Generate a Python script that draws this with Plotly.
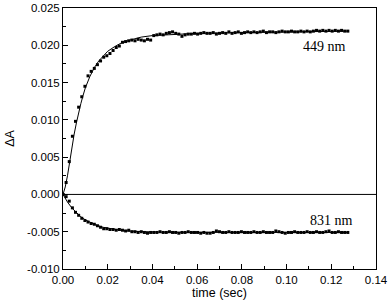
import plotly.graph_objects as go

# sampling times (s)
time = [0.0000, 0.0014, 0.0028, 0.0042, 0.0056, 0.0070, 0.0084, 0.0098, 0.0112, 0.0126,
        0.0140, 0.0154, 0.0168, 0.0182, 0.0196, 0.0210, 0.0224, 0.0238, 0.0252, 0.0266,
        0.0280, 0.0294, 0.0308, 0.0322, 0.0336, 0.0350, 0.0364, 0.0378, 0.0392, 0.0406,
        0.0420, 0.0434, 0.0448, 0.0462, 0.0476, 0.0490, 0.0504, 0.0518, 0.0532, 0.0546,
        0.0560, 0.0574, 0.0588, 0.0602, 0.0616, 0.0630, 0.0644, 0.0658, 0.0672, 0.0686,
        0.0700, 0.0714, 0.0728, 0.0742, 0.0756, 0.0770, 0.0784, 0.0798, 0.0812, 0.0826,
        0.0840, 0.0854, 0.0868, 0.0882, 0.0896, 0.0910, 0.0924, 0.0938, 0.0952, 0.0966,
        0.0980, 0.0994, 0.1008, 0.1022, 0.1036, 0.1050, 0.1064, 0.1078, 0.1092, 0.1106,
        0.1120, 0.1134, 0.1148, 0.1162, 0.1176, 0.1190, 0.1204, 0.1218, 0.1232, 0.1246,
        0.1260, 0.1274]

# absorbance change at 449 nm
dA_449 = [0.0000, 0.0016, 0.0044, 0.0078, 0.0098, 0.0117, 0.0131, 0.0145, 0.0159, 0.0165,
          0.0169, 0.0174, 0.0179, 0.0184, 0.0186, 0.0189, 0.0193, 0.0197, 0.0199, 0.0204,
          0.0205, 0.0206, 0.0207, 0.0206, 0.0208, 0.0207, 0.0206, 0.0208, 0.0207, 0.0213,
          0.0214, 0.0215, 0.0214, 0.0216, 0.0217, 0.0218, 0.0216, 0.0215, 0.0212, 0.0214,
          0.0215, 0.0215, 0.0216, 0.0215, 0.0216, 0.0217, 0.0216, 0.0216, 0.0217, 0.0215,
          0.0216, 0.0217, 0.0216, 0.0218, 0.0216, 0.0217, 0.0218, 0.0216, 0.0217, 0.0218,
          0.0217, 0.0218, 0.0217, 0.0218, 0.0219, 0.0217, 0.0218, 0.0218, 0.0217, 0.0218,
          0.0219, 0.0218, 0.0218, 0.0219, 0.0218, 0.0218, 0.0219, 0.0218, 0.0219, 0.0218,
          0.0219, 0.0220, 0.0219, 0.0220, 0.0219, 0.0220, 0.0219, 0.0220, 0.0219, 0.0220,
          0.0219, 0.0219]

# absorbance change at 831 nm
dA_831 = [0.0000, -0.0003, -0.0009, -0.0018, -0.0024, -0.0028, -0.0032, -0.0035, -0.0037, -0.0039,
          -0.0040, -0.0042, -0.0044, -0.0046, -0.0046, -0.0047, -0.0047, -0.0048, -0.0047, -0.0048,
          -0.0049, -0.0048, -0.0050, -0.0050, -0.0051, -0.0050, -0.0051, -0.0052, -0.0051, -0.0051,
          -0.0051, -0.0050, -0.0051, -0.0051, -0.0050, -0.0051, -0.0051, -0.0052, -0.0051, -0.0051,
          -0.0050, -0.0051, -0.0051, -0.0051, -0.0052, -0.0051, -0.0052, -0.0052, -0.0051, -0.0049,
          -0.0050, -0.0051, -0.0051, -0.0050, -0.0051, -0.0051, -0.0051, -0.0050, -0.0051, -0.0051,
          -0.0051, -0.0050, -0.0051, -0.0051, -0.0050, -0.0051, -0.0051, -0.0051, -0.0049, -0.0050,
          -0.0051, -0.0052, -0.0051, -0.0051, -0.0050, -0.0051, -0.0051, -0.0051, -0.0050, -0.0051,
          -0.0051, -0.0050, -0.0051, -0.0051, -0.0050, -0.0049, -0.0051, -0.0051, -0.0050, -0.0051,
          -0.0051, -0.0051]

# fitted curves
fit_time_449 = [0.0, 0.001, 0.002, 0.003, 0.004, 0.005, 0.006, 0.007, 0.008, 0.009, 0.010,
                0.012, 0.014, 0.016, 0.018, 0.020, 0.023, 0.026, 0.030, 0.035, 0.040, 0.050,
                0.060, 0.080, 0.100, 0.1274]
fit_449 = [0.0, 0.0010, 0.0025, 0.0045, 0.0064, 0.0081, 0.0096, 0.0110, 0.0122, 0.0133, 0.0143,
           0.0158, 0.0170, 0.0179, 0.0186, 0.0192, 0.0198, 0.0203, 0.0207, 0.0211, 0.0213, 0.0215,
           0.0216, 0.0217, 0.0218, 0.0219]

fit_time_831 = [0.0, 0.002, 0.004, 0.006, 0.008, 0.010, 0.012, 0.015, 0.018, 0.022, 0.026,
                0.030, 0.035, 0.040, 0.050, 0.060, 0.080, 0.100, 0.1274]
fit_831 = [0.0, -0.00102, -0.00183, -0.00248, -0.0030, -0.00342, -0.00375, -0.00414, -0.00441,
           -0.00466, -0.00482, -0.00492, -0.00500, -0.00504, -0.00508, -0.0051, -0.0051, -0.0051,
           -0.0051]

labels = ["449 nm", "831 nm"]
label_pos = [(0.117, 0.0198), (0.120, -0.0035)]

fig = go.Figure()
for t, y in [(time, dA_449), (time, dA_831)]:
    fig.add_trace(go.Scatter(x=t, y=y, mode="markers",
                             marker=dict(symbol="square", size=3, color="black"),
                             showlegend=False, hoverinfo="skip"))
for t, y in [(fit_time_449, fit_449), (fit_time_831, fit_831)]:
    fig.add_trace(go.Scatter(x=t, y=y, mode="lines",
                             line=dict(color="black", width=1),
                             showlegend=False, hoverinfo="skip"))

fig.add_hline(y=0, line=dict(color="black", width=1))

for lab, (lx, ly) in zip(labels, label_pos):
    fig.add_annotation(x=lx, y=ly, text=lab, showarrow=False,
                       font=dict(family="Liberation Serif", size=14, color="black"))

axis_common = dict(showgrid=False, zeroline=False, showline=True, linecolor="black",
                   linewidth=1, mirror=True, ticks="inside", ticklen=5, tickcolor="black",
                   automargin=False,
                   tickfont=dict(family="Liberation Sans", size=11.5, color="black"))

fig.update_xaxes(range=[0, 0.14], tickvals=[0, 0.02, 0.04, 0.06, 0.08, 0.10, 0.12, 0.14],
                 ticktext=["0.00", "0.02", "0.04", "0.06", "0.08", "0.10", "0.12", "0.14"],
                 minor=dict(ticks="inside", ticklen=3, tickcolor="black", dtick=0.01, tick0=0),
                 title=dict(text="time (sec)", font=dict(family="Liberation Sans", size=12.5, color="black"),
                            standoff=2),
                 **axis_common)
fig.update_yaxes(range=[-0.010, 0.025],
                 tickvals=[-0.010, -0.005, 0.0, 0.005, 0.010, 0.015, 0.020, 0.025],
                 ticktext=["-0.010", "-0.005", "0.000", "0.005", "0.010", "0.015", "0.020", "0.025"],
                 minor=dict(ticks="inside", ticklen=3, tickcolor="black", dtick=0.0025, tick0=0),
                 title=dict(text="ΔA", font=dict(family="Liberation Sans", size=12.5, color="black"),
                            standoff=9),
                 **axis_common)

fig.update_layout(width=390, height=305, margin=dict(l=63, r=14, t=8, b=36),
                  plot_bgcolor="white", paper_bgcolor="white")

fig.write_html("out.html", config={"displayModeBar": False},
               post_script="document.body.style.margin='0';document.body.style.padding='0';")
